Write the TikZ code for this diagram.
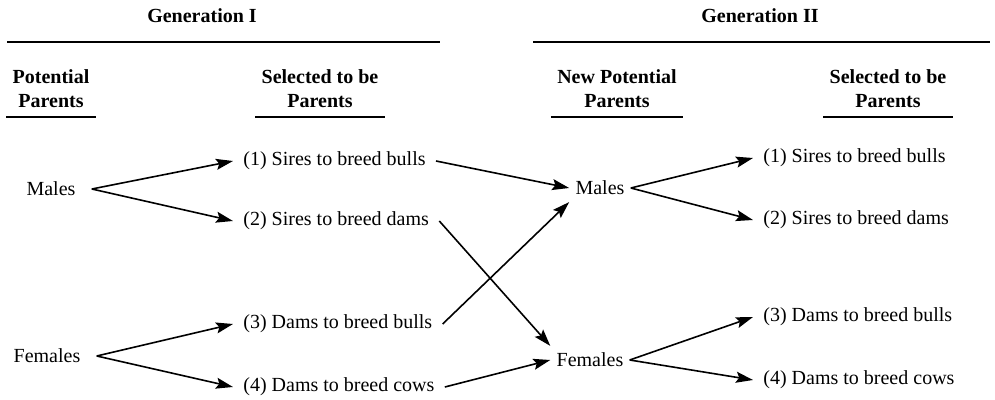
\documentclass[tikz,border=0pt]{standalone}
\usepackage{fontspec}
\setmainfont{Liberation Serif}
\usetikzlibrary{arrows.meta}

\tikzset{
	arr/.style={line width=0.8pt,-{Stealth[length=8.5pt,width=5.5pt,inset=1.5pt]}},
	colhead/.style={font=\bfseries,align=center,inner xsep=3pt,inner ysep=4.5pt,anchor=south},
	item/.style={anchor=west,inner xsep=5pt},
	pivot/.style={inner xsep=8pt},
	pivottwo/.style={inner xsep=3pt}
}

\begin{document}
\begin{tikzpicture}[x=0.5pt,y=-0.5pt,font=\fontsize{10}{12}\selectfont]
			\useasboundingbox (0,0) rectangle (995,400);
			\node[font=\bfseries] (gen1) at (202,16) {Generation I};
			\node[font=\bfseries] (gen2) at (760,16) {Generation II};
			\draw[line width=0.7pt] (7,42) -- (440,42);
			\draw[line width=0.7pt] (533,42) -- (990,42);
			\foreach \n/\x/\t in {hpot/51/Potential\\Parents, hsel/320/Selected to be\\Parents,
				hnew/617/New Potential\\Parents, hseltwo/888/Selected to be\\Parents} {
				\node[colhead] (\n) at (\x,117) {\t};
				\draw[line width=0.7pt] (\n.south west) -- (\n.south east);
			}
			\node[pivot] (m1) at (51,189) {Males};
			\node[pivot] (f1) at (47,356) {Females};
			\node[item] (s1) at (233,161) {(1) Sires to breed bulls};
			\node[item] (s2) at (233,221) {(2) Sires to breed dams};
			\node[item] (s3) at (233,324) {(3) Dams to breed bulls};
			\node[item] (s4) at (233,387) {(4) Dams to breed cows};
			\node[pivottwo] (m2) at (600,188) {Males};
			\node[pivottwo] (f2) at (590,360) {Females};
			\node[item] (t1) at (753,158) {(1) Sires to breed bulls};
			\node[item] (t2) at (753,220) {(2) Sires to breed dams};
			\node[item] (t3) at (753,317) {(3) Dams to breed bulls};
			\node[item] (t4) at (753,380) {(4) Dams to breed cows};
			\foreach \a/\b in {m1/s1, m1/s2, f1/s3, f1/s4, m2/t1, m2/t2, f2/t3, f2/t4} {
				\draw[arr] (\a.east) -- (\b.west);
			}
			\draw[arr] (s1.east) -- (m2.west);
			\draw[arr] (s3.east) -- (m2.south west);
			\draw[arr] (s2.east) -- (f2.north west);
			\draw[arr] (s4.east) -- (f2.west);
		\end{tikzpicture}
\end{document}
